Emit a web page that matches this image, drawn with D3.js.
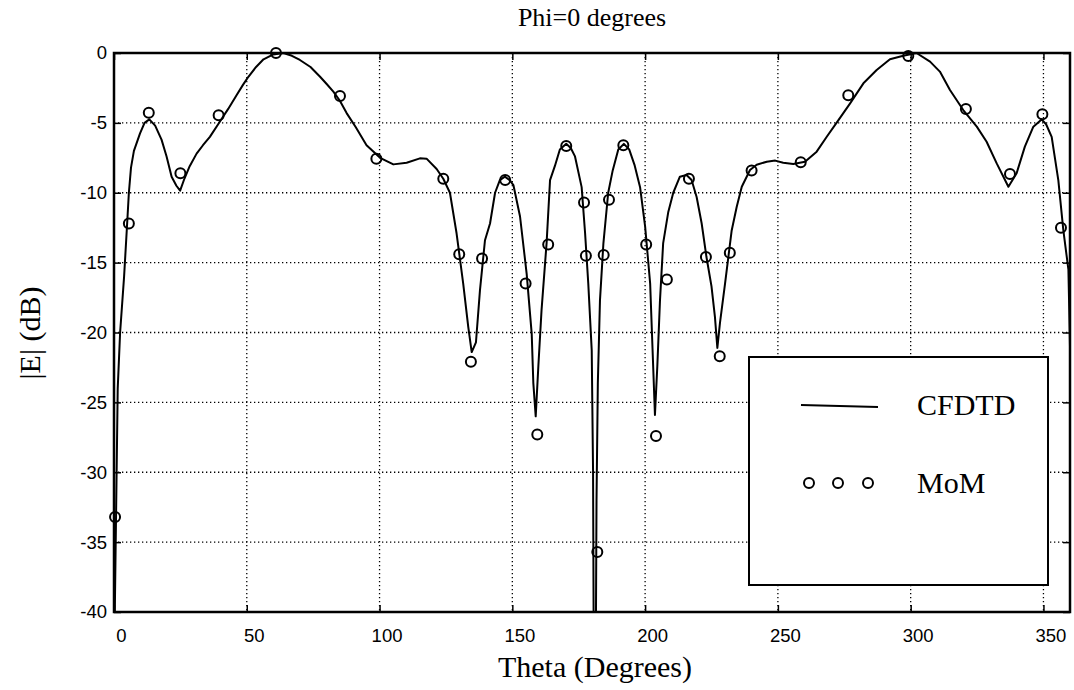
<!DOCTYPE html>
<html>
<head>
<meta charset="utf-8">
<script src="https://cdn.jsdelivr.net/npm/d3@7"></script>
<style>
  body { margin: 0; background: #fff; }
  svg { display: block; }
</style>
</head>
<body>
<div id="chart"></div>
<script>
// CFDTD curve
var cfdtdTheta = [0.3,1.4,2.3,3.8,4.8,5.6,6.4,7.5,9.8,11.5,13.3,15.5,17.9,19.8,21.7,23.5,24.9,26.5,28.5,31.1,
    33.5,36.1,39.9,43,46.2,48.5,50.6,53.5,56.3,60,63.8,67,70,74,77.6,80,82.6,85,87.6,91,
    95.1,100.2,105.2,110.2,115.2,117.7,121.5,124,126.5,129,131.5,133.4,134.7,136.3,137.8,139.7,141.6,143.5,145.3,147.2,
    149,150.4,152.9,155.4,157.3,157.9,158.8,159.8,161,162.9,164.2,166,167.9,170.3,172,173.6,176.1,177.4,178.6,179.9,
    180.4,180.6,181.5,181.7,182.2,183,184.3,186.1,187.8,189.9,192,194,196,198.1,200,201.9,202.8,203.7,204.6,205.6,
    206.8,208.7,210.6,213.1,215.6,217.5,219.4,221.3,223.1,225,226.3,227.2,228.2,230.1,232.6,234.5,236.4,239.5,242,245.8,
    249,252,255.8,260.2,264.6,268.4,272.8,277.2,282.2,287.2,292.2,297.2,302.2,307.3,311,314.8,319.8,324.9,328.6,332.4,
    336.8,339.9,343,346.2,349.3,351,353.1,355.6,357.5,359.4,360];
var cfdtdDb = [-40,-24,-20,-16,-12.7,-10,-8.2,-7,-5.75,-5,-4.75,-5.2,-6.2,-7.4,-8.85,-9.5,-9.85,-9,-8.1,-7.2,
    -6.6,-6,-4.9,-4,-3,-2.3,-1.7,-1,-0.45,-0.1,0,-0.2,-0.5,-1,-1.7,-2.2,-2.77,-3.4,-4.3,-5.3,
    -6.6,-7.5,-7.97,-7.85,-7.54,-7.56,-8.3,-9,-10,-12.9,-16.5,-19.6,-21.4,-20.7,-17,-13.4,-12.2,-10,-9.1,-8.85,
    -9.1,-9.45,-11.7,-15.8,-20.1,-23.6,-26,-22.4,-18.4,-13.6,-9.1,-8.1,-6.9,-6.5,-6.8,-7.4,-9.6,-12.9,-16.5,-21.3,
    -30,-40,-40,-32,-23.6,-17.7,-13.6,-10,-8.4,-6.9,-6.5,-6.9,-8,-9.6,-12.4,-16.5,-21.2,-25.9,-22.4,-17.7,
    -13.6,-11.4,-10,-8.85,-8.73,-9.09,-10.3,-12.2,-14.6,-16.7,-18.9,-21.1,-19.3,-16.5,-12.7,-11,-9.57,-8.37,-8,-7.78,
    -7.7,-7.85,-7.94,-7.78,-7.06,-5.99,-4.8,-3.6,-2.17,-1.22,-0.45,-0.2,0,-0.62,-1.33,-2.65,-4.08,-5.27,-6.35,-7.9,
    -9.57,-8.6,-6.7,-5.27,-4.75,-5.1,-6,-9.09,-12.7,-15.5,-21];

// MoM samples
var momTheta = [0.4,5.6,13.1,25,39.4,61,85.1,98.8,124,130,134.4,138.6,147.3,155,159.4,163.5,170.3,177,177.7,182,
    184.4,186.4,191.8,200.4,204.1,208.2,216.5,222.9,228.1,231.9,240.1,258.6,276.5,299.1,320.8,337.4,349.6,356.6];
var momDb = [-33.2,-12.2,-4.27,-8.6,-4.46,0,-3.08,-7.56,-9,-14.4,-22.1,-14.7,-9.09,-16.5,-27.3,-13.7,-6.65,-10.7,-14.5,-35.7,
    -14.45,-10.5,-6.6,-13.7,-27.4,-16.2,-9,-14.6,-21.7,-14.3,-8.4,-7.82,-3.03,-0.21,-4,-8.66,-4.39,-12.5];

var xTicks = [0,50,100,150,200,250,300,350];
var yTicks = [0,-5,-10,-15,-20,-25,-30,-35,-40];
var legendNames = ["CFDTD", "MoM"];

var serif = "'Liberation Serif', 'Times New Roman', serif";
var sans = "'Liberation Sans', Arial, sans-serif";

var width = 1074, height = 690;
var margin = {top: 53, right: 4, bottom: 78, left: 114};
var w = width - margin.left - margin.right;
var h = height - margin.top - margin.bottom;

var svg = d3.select("#chart").append("svg")
    .attr("width", width)
    .attr("height", height);

var g = svg.append("g")
    .attr("transform", "translate(" + margin.left + "," + margin.top + ")");

var x = d3.scaleLinear().domain([0, 360]).range([0, w]);
var y = d3.scaleLinear().domain([-40, 0]).range([h, 0]);

// dotted grid
g.append("g").selectAll("line").data(xTicks.filter(function(d) { return d > 0; }))
    .enter().append("line")
    .attr("x1", function(d) { return x(d); }).attr("x2", function(d) { return x(d); })
    .attr("y1", 0).attr("y2", h)
    .attr("stroke", "#000").attr("stroke-width", 1.3).attr("stroke-dasharray", "1.3,2.7");
g.append("g").selectAll("line").data(yTicks.filter(function(d) { return d > -40 && d < 0; }))
    .enter().append("line")
    .attr("x1", 0).attr("x2", w)
    .attr("y1", function(d) { return y(d); }).attr("y2", function(d) { return y(d); })
    .attr("stroke", "#000").attr("stroke-width", 1.3).attr("stroke-dasharray", "1.3,2.7");

// axes with inward ticks
var xAxis = g.append("g")
    .attr("transform", "translate(0," + h + ")")
    .call(d3.axisBottom(x).tickValues(xTicks).tickSize(-7).tickPadding(17).tickFormat(String));
xAxis.selectAll(".tick text").attr("dx", 7);
g.append("g").call(d3.axisTop(x).tickValues(xTicks).tickSize(-7).tickFormat(""));

var yAxis = g.append("g")
    .call(d3.axisLeft(y).tickValues(yTicks).tickSize(-7).tickPadding(7).tickFormat(String));
g.append("g").attr("transform", "translate(" + w + ",0)")
    .call(d3.axisRight(y).tickValues(yTicks).tickSize(-7).tickFormat(""));

g.selectAll(".domain").remove();
g.selectAll(".tick line").attr("stroke", "#000").attr("stroke-width", 1.5);
g.selectAll(".tick text")
    .attr("font-family", sans).attr("font-size", 18.5).attr("fill", "#000");

// frame
g.append("rect")
    .attr("x", 0).attr("y", 0).attr("width", w).attr("height", h)
    .attr("fill", "none").attr("stroke", "#000").attr("stroke-width", 2.5);

// CFDTD line
var line = d3.line()
    .x(function(d) { return x(d[0]); })
    .y(function(d) { return y(d[1]); });
g.append("path")
    .datum(d3.zip(cfdtdTheta, cfdtdDb))
    .attr("d", line)
    .attr("fill", "none").attr("stroke", "#000").attr("stroke-width", 2)
    .attr("stroke-linejoin", "round");

// MoM circles
g.append("g").selectAll("circle")
    .data(d3.zip(momTheta, momDb))
    .enter().append("circle")
    .attr("cx", function(d) { return x(d[0]); })
    .attr("cy", function(d) { return y(d[1]); })
    .attr("r", 5)
    .attr("fill", "none").attr("stroke", "#000").attr("stroke-width", 2);

// titles
svg.append("text")
    .attr("x", 592).attr("y", 26)
    .attr("text-anchor", "middle")
    .attr("font-family", serif).attr("font-size", 26)
    .text("Phi=0 degrees");
svg.append("text")
    .attr("x", 595).attr("y", 677)
    .attr("text-anchor", "middle")
    .attr("font-family", serif).attr("font-size", 30)
    .text("Theta (Degrees)");
svg.append("text")
    .attr("transform", "translate(40,333) rotate(-90)")
    .attr("text-anchor", "middle")
    .attr("font-family", serif).attr("font-size", 30)
    .text("|E| (dB)");

// legend
var lg = svg.append("g").attr("transform", "translate(749,357)");
lg.append("rect").attr("width", 299).attr("height", 228)
    .attr("fill", "#fff").attr("stroke", "#000").attr("stroke-width", 2);
lg.append("line").attr("x1", 52).attr("y1", 48).attr("x2", 129).attr("y2", 50)
    .attr("stroke", "#000").attr("stroke-width", 2);
lg.selectAll("circle.leg").data([60, 89, 119]).enter().append("circle")
    .attr("class", "leg")
    .attr("cx", function(d) { return d; }).attr("cy", 126).attr("r", 5)
    .attr("fill", "none").attr("stroke", "#000").attr("stroke-width", 2);
lg.selectAll("text.leg").data(legendNames).enter().append("text")
    .attr("class", "leg")
    .attr("x", 168)
    .attr("y", function(d, i) { return 58 + i * 78; })
    .attr("font-family", serif).attr("font-size", 30)
    .text(function(d) { return d; });
</script>
</body>
</html>
